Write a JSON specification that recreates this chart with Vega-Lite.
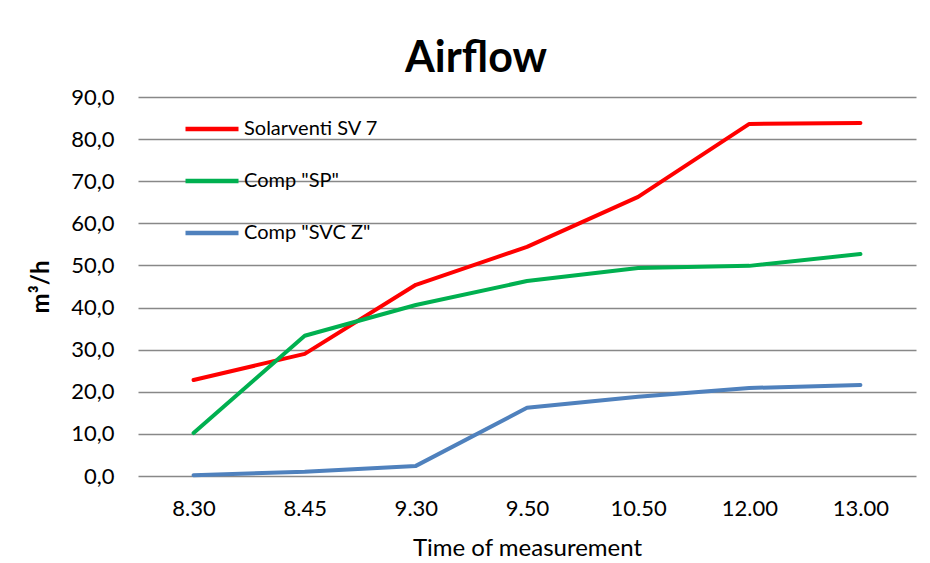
{
  "$schema": "https://vega.github.io/schema/vega-lite/v6.json",
  "autosize": "none",
  "width": 778,
  "height": 379,
  "padding": {"left": 138, "top": 97, "right": 14, "bottom": 88},
  "background": "white",
  "title": {"text": "Airflow", "fontSize": 43, "font": "Lato", "fontWeight": "bold", "color": "#000000", "anchor": "middle", "offset": 5, "dx": -51},
  "data": {"values": [
    {"time": "8.30", "series": "Solarventi SV 7", "value": 22.8},
    {"time": "8.45", "series": "Solarventi SV 7", "value": 29.0},
    {"time": "9.30", "series": "Solarventi SV 7", "value": 45.4},
    {"time": "9.50", "series": "Solarventi SV 7", "value": 54.4},
    {"time": "10.50", "series": "Solarventi SV 7", "value": 66.3},
    {"time": "12.00", "series": "Solarventi SV 7", "value": 83.6},
    {"time": "13.00", "series": "Solarventi SV 7", "value": 83.8},
    {"time": "8.30", "series": "Comp \"SP\"", "value": 10.2},
    {"time": "8.45", "series": "Comp \"SP\"", "value": 33.3},
    {"time": "9.30", "series": "Comp \"SP\"", "value": 40.6},
    {"time": "9.50", "series": "Comp \"SP\"", "value": 46.3},
    {"time": "10.50", "series": "Comp \"SP\"", "value": 49.4},
    {"time": "12.00", "series": "Comp \"SP\"", "value": 49.9},
    {"time": "13.00", "series": "Comp \"SP\"", "value": 52.7},
    {"time": "8.30", "series": "Comp \"SVC Z\"", "value": 0.2},
    {"time": "8.45", "series": "Comp \"SVC Z\"", "value": 1.0},
    {"time": "9.30", "series": "Comp \"SVC Z\"", "value": 2.4},
    {"time": "9.50", "series": "Comp \"SVC Z\"", "value": 16.2},
    {"time": "10.50", "series": "Comp \"SVC Z\"", "value": 18.8},
    {"time": "12.00", "series": "Comp \"SVC Z\"", "value": 20.9},
    {"time": "13.00", "series": "Comp \"SVC Z\"", "value": 21.6}
  ]},
  "mark": {"type": "line", "strokeWidth": 4, "strokeCap": "round", "strokeJoin": "round"},
  "encoding": {
    "x": {
      "field": "time", "type": "ordinal", "sort": null,
      "scale": {"type": "point", "padding": 0.5},
      "axis": {
        "title": "Time of measurement", "titleFont": "Lato", "titleFontSize": 24, "titleFontWeight": "normal", "titleColor": "#000000",
        "titleBaseline": "top", "titleY": 60,
        "labelFont": "Lato", "labelFontSize": 22, "labelColor": "#000000", "labelPadding": 22, "labelAngle": 0,
        "ticks": false, "domain": false, "grid": false
      }
    },
    "y": {
      "field": "value", "type": "quantitative",
      "scale": {"domain": [0, 90], "nice": false},
      "axis": {
        "title": "m³/h", "titleFont": "Lato", "titleFontSize": 24, "titleFontWeight": "bold", "titleColor": "#000000",
        "titleX": -85,
        "values": [0, 10, 20, 30, 40, 50, 60, 70, 80, 90],
        "labelExpr": "replace(format(datum.value, '.1f'), '.', ',')",
        "labelFont": "Lato", "labelFontSize": 22, "labelColor": "#000000", "labelPadding": 24,
        "ticks": false, "domain": false,
        "grid": true, "gridColor": "#888888", "gridWidth": 1.3
      }
    },
    "color": {
      "field": "series", "type": "nominal",
      "scale": {"domain": ["Solarventi SV 7", "Comp \"SP\"", "Comp \"SVC Z\""], "range": ["#FF0000", "#00B050", "#4F81BD"]},
      "legend": {
        "title": null, "orient": "none", "legendX": 45, "legendY": 3,
        "symbolType": "stroke", "symbolSize": 2809, "symbolStrokeWidth": 4.5,
        "labelFont": "Lato", "labelFontSize": 20, "labelColor": "#000000", "labelOffset": 3, "labelLimit": 400,
        "rowPadding": 13
      }
    }
  },
  "config": {"view": {"stroke": null}}
}
